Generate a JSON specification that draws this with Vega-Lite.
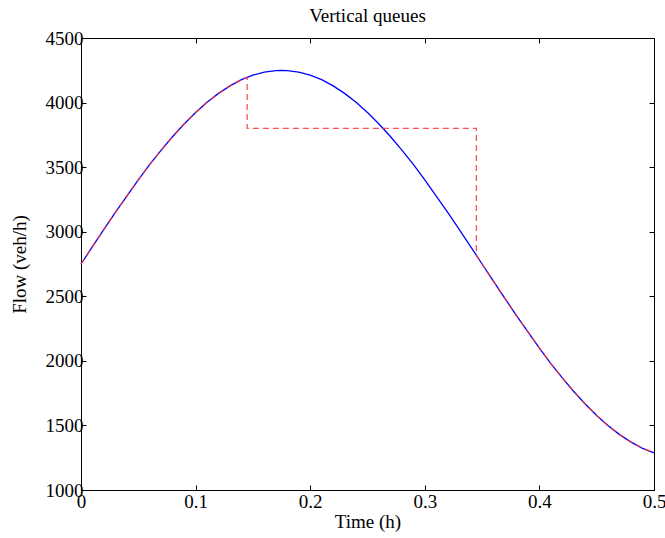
{
  "$schema": "https://vega.github.io/schema/vega-lite/v6.json",
  "width": 573,
  "height": 452,
  "autosize": {"type": "none"},
  "padding": {"left": 81, "top": 38, "right": 11, "bottom": 48},
  "background": "white",
  "config": {
    "view": {"stroke": "black", "strokeWidth": 1},
    "font": "Liberation Serif",
    "axis": {
      "grid": false,
      "domainColor": "black",
      "tickColor": "black",
      "labelColor": "black",
      "titleColor": "black",
      "labelFont": "Liberation Serif",
      "titleFont": "Liberation Serif",
      "labelFontSize": 19,
      "titleFontSize": 19,
      "titleFontWeight": "normal",
      "labelFlush": false,
      "tickSize": -5
    }
  },
  "title": {
    "text": "Vertical queues",
    "font": "Liberation Serif",
    "fontSize": 19,
    "fontWeight": "normal",
    "color": "black",
    "offset": 3
  },
  "datasets": {
    "flow": [
      {"t": 0, "q": 2750}, {"t": 0.01, "q": 2884}, {"t": 0.02, "q": 3018}, {"t": 0.03, "q": 3149},
      {"t": 0.04, "q": 3276}, {"t": 0.05, "q": 3401}, {"t": 0.06, "q": 3521}, {"t": 0.07, "q": 3632},
      {"t": 0.08, "q": 3737}, {"t": 0.09, "q": 3834}, {"t": 0.10, "q": 3923}, {"t": 0.11, "q": 4002},
      {"t": 0.12, "q": 4071}, {"t": 0.13, "q": 4129}, {"t": 0.14, "q": 4177}, {"t": 0.15, "q": 4212},
      {"t": 0.16, "q": 4236}, {"t": 0.17, "q": 4248}, {"t": 0.175, "q": 4250}, {"t": 0.18, "q": 4248},
      {"t": 0.19, "q": 4236}, {"t": 0.20, "q": 4212}, {"t": 0.21, "q": 4177}, {"t": 0.22, "q": 4129},
      {"t": 0.23, "q": 4071}, {"t": 0.24, "q": 4002}, {"t": 0.25, "q": 3923}, {"t": 0.26, "q": 3834},
      {"t": 0.27, "q": 3737}, {"t": 0.28, "q": 3632}, {"t": 0.29, "q": 3521}, {"t": 0.30, "q": 3401},
      {"t": 0.31, "q": 3276}, {"t": 0.32, "q": 3149}, {"t": 0.33, "q": 3018}, {"t": 0.34, "q": 2884},
      {"t": 0.35, "q": 2750}, {"t": 0.36, "q": 2616}, {"t": 0.37, "q": 2482}, {"t": 0.38, "q": 2351},
      {"t": 0.39, "q": 2224}, {"t": 0.40, "q": 2099}, {"t": 0.41, "q": 1979}, {"t": 0.42, "q": 1868},
      {"t": 0.43, "q": 1763}, {"t": 0.44, "q": 1666}, {"t": 0.45, "q": 1577}, {"t": 0.46, "q": 1498},
      {"t": 0.47, "q": 1429}, {"t": 0.48, "q": 1371}, {"t": 0.49, "q": 1323}, {"t": 0.50, "q": 1288}
    ],
    "queue": [
      {"i": 0, "t": 0, "q": 2750}, {"i": 1, "t": 0.01, "q": 2884}, {"i": 2, "t": 0.02, "q": 3018},
      {"i": 3, "t": 0.03, "q": 3149}, {"i": 4, "t": 0.04, "q": 3276}, {"i": 5, "t": 0.05, "q": 3401},
      {"i": 6, "t": 0.06, "q": 3521}, {"i": 7, "t": 0.07, "q": 3632}, {"i": 8, "t": 0.08, "q": 3737},
      {"i": 9, "t": 0.09, "q": 3834}, {"i": 10, "t": 0.10, "q": 3923}, {"i": 11, "t": 0.11, "q": 4002},
      {"i": 12, "t": 0.12, "q": 4071}, {"i": 13, "t": 0.13, "q": 4129}, {"i": 14, "t": 0.14, "q": 4177},
      {"i": 15, "t": 0.145, "q": 4196}, {"i": 16, "t": 0.145, "q": 3800}, {"i": 17, "t": 0.345, "q": 3800},
      {"i": 18, "t": 0.345, "q": 2817}, {"i": 19, "t": 0.35, "q": 2750}, {"i": 20, "t": 0.36, "q": 2616},
      {"i": 21, "t": 0.37, "q": 2482}, {"i": 22, "t": 0.38, "q": 2351}, {"i": 23, "t": 0.39, "q": 2224},
      {"i": 24, "t": 0.40, "q": 2099}, {"i": 25, "t": 0.41, "q": 1979}, {"i": 26, "t": 0.42, "q": 1868},
      {"i": 27, "t": 0.43, "q": 1763}, {"i": 28, "t": 0.44, "q": 1666}, {"i": 29, "t": 0.45, "q": 1577},
      {"i": 30, "t": 0.46, "q": 1498}, {"i": 31, "t": 0.47, "q": 1429}, {"i": 32, "t": 0.48, "q": 1371},
      {"i": 33, "t": 0.49, "q": 1323}, {"i": 34, "t": 0.50, "q": 1288}
    ]
  },
  "layer": [
    {
      "data": {"name": "flow"},
      "mark": {"type": "line", "color": "#0000ff", "strokeWidth": 1.3},
      "encoding": {
        "x": {
          "field": "t", "type": "quantitative",
          "scale": {"domain": [0, 0.5], "nice": false},
          "axis": {"title": "Time (h)", "values": [0, 0.1, 0.2, 0.3, 0.4, 0.5], "format": "~f", "labelPadding": 7, "titlePadding": 1}
        },
        "y": {
          "field": "q", "type": "quantitative",
          "scale": {"domain": [1000, 4500], "nice": false, "zero": false},
          "axis": {"title": "Flow (veh/h)", "values": [1000, 1500, 2000, 2500, 3000, 3500, 4000, 4500], "format": "d", "labelPadding": 3, "titlePadding": 16}
        }
      }
    },
    {
      "data": {"name": "queue"},
      "mark": {"type": "line", "color": "#ff3333", "strokeWidth": 1.3, "strokeDash": [6, 4], "opacity": 0.85},
      "encoding": {
        "x": {
          "field": "t", "type": "quantitative",
          "axis": {"orient": "top", "labels": false, "title": null, "values": [0, 0.1, 0.2, 0.3, 0.4, 0.5], "domain": false}
        },
        "y": {
          "field": "q", "type": "quantitative",
          "axis": {"orient": "right", "labels": false, "title": null, "values": [1000, 1500, 2000, 2500, 3000, 3500, 4000, 4500], "domain": false}
        },
        "order": {"field": "i", "type": "quantitative"}
      }
    }
  ],
  "resolve": {"axis": {"x": "independent", "y": "independent"}}
}
